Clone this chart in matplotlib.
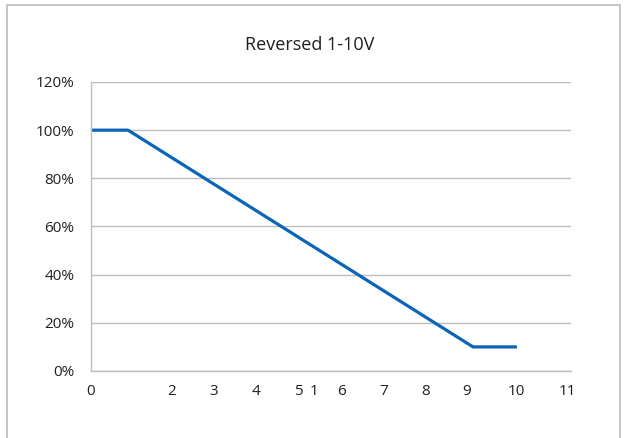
import matplotlib
matplotlib.use("Agg")
import matplotlib.pyplot as plt
from matplotlib.patches import Rectangle

# control voltage (x) vs output level (y)
volts = [0, 0.87, 8.97, 10]
level = [1.0, 1.0, 0.10, 0.10]

# tick labels along the x axis as printed (positions)
xtick_pos = [0, 1.89, 2.87, 3.87, 4.88, 5.24, 5.87, 6.86, 7.86, 8.82, 9.99, 11.18]
xtick_lab = ["0", "2", "3", "4", "5", "1", "6", "7", "8", "9", "10", "11"]
ytick_pos = [0, 0.2, 0.4, 0.6, 0.8, 1.0, 1.2]
ytick_lab = ["0%", "20%", "40%", "60%", "80%", "100%", "120%"]

plt.rcParams["font.family"] = ["Open Sans", "DejaVu Sans"]

fig = plt.figure(figsize=(6.26, 4.38), dpi=100)
fig.patches.append(Rectangle((7 / 626, -0.1), 613 / 626, 1 - 5 / 438 + 0.1,
                             transform=fig.transFigure, fill=False,
                             edgecolor="#BBBBBB", linewidth=1.2))

ax = fig.add_axes([91 / 626, 1 - 371 / 438, 480 / 626, 289 / 438])
ax.plot(volts, level, color="#0A64B8", linewidth=2.3, solid_capstyle="butt")

ax.set_xlim(0, 11.27)
ax.set_ylim(0, 1.2)
ax.set_yticks(ytick_pos)
ax.set_yticklabels(ytick_lab)
ax.set_xticks(xtick_pos)
ax.set_xticklabels(xtick_lab)
ax.grid(axis="y", color="#BEBEBE", linewidth=1.0)
ax.set_axisbelow(True)

for side in ["top", "right"]:
    ax.spines[side].set_visible(False)
for side in ["left", "bottom"]:
    ax.spines[side].set_color("#BEBEBE")
    ax.spines[side].set_linewidth(1.0)

ax.tick_params(axis="y", length=0, pad=12, labelsize=11, colors="#231F20")
ax.tick_params(axis="x", length=0, pad=9.5, labelsize=11, colors="#231F20")

fig.text(310 / 626, 1 - 45 / 438, "Reversed 1-10V", ha="center", va="center",
         fontsize=13, color="#231F20")

fig.savefig("out.png", dpi=100)
